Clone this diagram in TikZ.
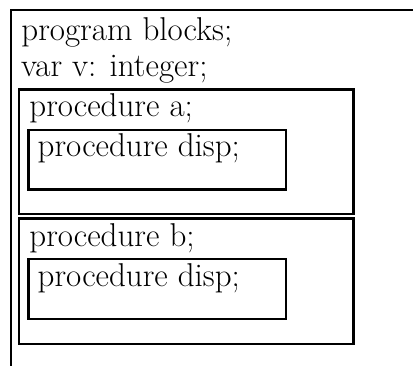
\documentclass[tikz,border=0pt]{standalone}
\usepackage{tikz}
\usetikzlibrary{positioning}

\begin{document}
\begin{tikzpicture}[
    x=0.5pt, y=-0.5pt,
    frameline/.style={line width=1pt, line cap=rect},
    blockbox/.style={line width=1.4pt, line join=miter},
    codetext/.style={anchor=base west, inner sep=0pt, font=\fontsize{16.5}{19}\selectfont}
]
    \useasboundingbox (0,0) rectangle (413,365);

    % Outer program block (open on right and bottom)
    \draw[frameline] (413,9.5) -- (11,9.5) -- (11,366);
    \node[codetext] (prog) at (21,40) {program blocks;};
    \node[codetext] (vardecl) at (20.7,76) {var v: integer;};

    % Procedure a
    \draw[blockbox] (19,89.5) rectangle (353.5,214);
    \node[codetext] (proca) at (29,116.3) {procedure a;};
    \draw[blockbox] (28.7,130) rectangle (286,189.5);
    \node[codetext] (dispa) at (37.3,156) {procedure disp;};

    % Procedure b
    \draw[blockbox] (19,218.7) rectangle (353.5,344);
    \node[codetext] (procb) at (29,246.3) {procedure b;};
    \draw[blockbox] (28.7,259) rectangle (286,319);
    \node[codetext] (dispb) at (37.3,286) {procedure disp;};
\end{tikzpicture}
\end{document}
